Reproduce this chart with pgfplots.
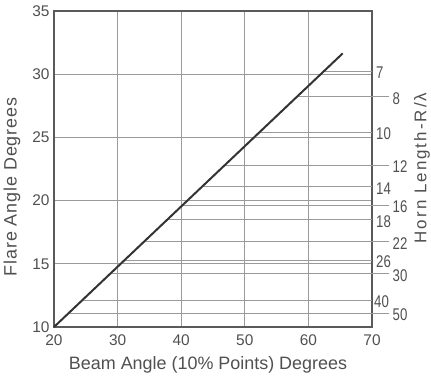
\documentclass[border=0pt]{standalone}
\usepackage{pgfplots}
\pgfplotsset{compat=1.18}
\usepackage{fontspec}
\setmainfont{Liberation Sans}
\newfontfamily\narrowfont{Liberation Sans}[FakeStretch=0.78]
\newfontfamily\spacedfont{Liberation Sans}[LetterSpace=5]
\newfontfamily\widefont{Liberation Sans}[LetterSpace=12]
\definecolor{txt}{HTML}{505050}
\definecolor{gridc}{HTML}{9A9A9A}
\definecolor{framec}{HTML}{5A5A5A}
\definecolor{datac}{HTML}{333333}
\begin{document}
\begin{tikzpicture}
\path[use as bounding box] (0,0) rectangle (431bp,380bp);
\begin{axis}[
  at={(54bp,53bp)}, anchor=south west,
  scale only axis, width=318bp, height=316bp,
  xmin=20, xmax=70, ymin=10, ymax=35,
  xtick={20,30,...,70}, ytick={10,15,...,35},
  grid=major,
  major grid style={draw=gridc, line width=0.9bp},
  major tick length=0pt,
  axis line style={draw=framec, line width=1.3bp},
  /pgf/number format/assume math mode=true,
  tick label style={font=\fontsize{15.5}{15.5}\selectfont, text=txt},
  xticklabel style={yshift=-4bp},
  yticklabel style={xshift=-1bp},
  clip=false,
]
% horn length lines
\addplot[gridc, line width=0.9bp] coordinates {(62.46,30.25) (70,30.25)};
\addplot[gridc, line width=0.9bp] coordinates {(58.16,28.2) (72.6,28.2)};
\addplot[gridc, line width=0.9bp] coordinates {(52.35,25.43) (70,25.43)};
\addplot[gridc, line width=0.9bp] coordinates {(46.88,22.82) (72.6,22.82)};
\addplot[gridc, line width=0.9bp] coordinates {(43.23,21.08) (70,21.08)};
\addplot[gridc, line width=0.9bp] coordinates {(40.23,19.65) (72.6,19.65)};
\addplot[gridc, line width=0.9bp] coordinates {(37.76,18.47) (70,18.47)};
\addplot[gridc, line width=0.9bp] coordinates {(34.11,16.73) (72.6,16.73)};
\addplot[gridc, line width=0.9bp] coordinates {(31.11,15.3) (70,15.3)};
\addplot[gridc, line width=0.9bp] coordinates {(28.81,14.2) (72.6,14.2)};
\addplot[gridc, line width=0.9bp] coordinates {(24.49,12.14) (70,12.14)};
\addplot[gridc, line width=0.9bp] coordinates {(22.31,11.1) (72.6,11.1)};
% main curve
\addplot[datac, line width=2bp] coordinates {(20,10) (65.4,31.65)};
% horn labels
\begin{scope}[every node/.style={anchor=west, inner sep=0pt, text=txt, font=\narrowfont\fontsize{17}{17}\selectfont, yshift=-1.5bp}]
\node[xshift=4bp] at (axis cs:70,30.25) {7};
\node[xshift=4bp] at (axis cs:72.6,28.2) {8};
\node[xshift=4bp] at (axis cs:70,25.43) {10};
\node[xshift=4bp] at (axis cs:72.6,22.82) {12};
\node[xshift=4bp] at (axis cs:70,21.08) {14};
\node[xshift=4bp] at (axis cs:72.6,19.65) {16};
\node[xshift=4bp] at (axis cs:70,18.47) {18};
\node[xshift=4bp] at (axis cs:72.6,16.73) {22};
\node[xshift=4bp] at (axis cs:70,15.3) {26};
\node[xshift=4bp] at (axis cs:72.6,14.2) {30};
\node[xshift=2bp] at (axis cs:70,12.14) {40};
\node[xshift=4bp] at (axis cs:72.6,11.1) {50};
\end{scope}
\end{axis}
\node[rotate=90, text=txt, font=\spacedfont\fontsize{18}{18}\selectfont] at (12bp,193bp) {Flare Angle Degrees};
\node[text=txt, font=\fontsize{18}{18}\selectfont] at (208bp,15bp) {Beam Angle (10\% Points) Degrees};
\node[rotate=90, text=txt, font=\widefont\fontsize{17}{17}\selectfont] at (422bp,212bp) {Horn Length-R/λ};
\end{tikzpicture}
\end{document}
